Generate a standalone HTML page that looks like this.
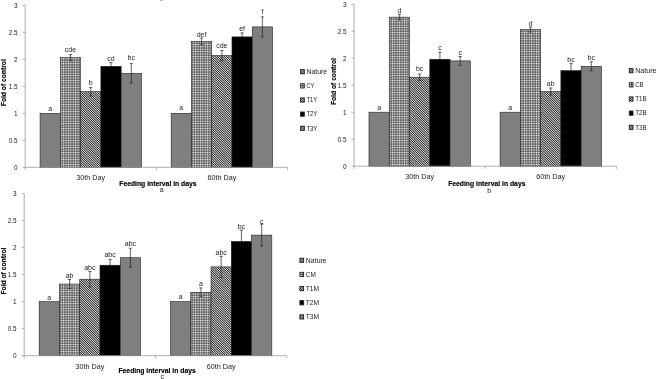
<!DOCTYPE html>
<html><head><meta charset="utf-8"><title>chart</title>
<style>
html,body{margin:0;padding:0;background:#fff;}
body{width:658px;height:379px;overflow:hidden;font-family:"Liberation Sans",sans-serif;}
svg{display:block;filter:grayscale(1);font-family:"Liberation Sans",sans-serif;}
</style></head><body>
<svg width="658" height="379" viewBox="0 0 658 379">
<defs>
<pattern id="grid" patternUnits="userSpaceOnUse" width="2.4" height="2.4">
<rect width="2.4" height="2.4" fill="#111"/><rect x="0.35" y="0.35" width="1.75" height="1.75" fill="#fff"/>
</pattern>
<pattern id="diag" patternUnits="userSpaceOnUse" width="1.62" height="4" patternTransform="rotate(-45)">
<rect width="1.62" height="4" fill="#f4f4f4"/><rect width="0.84" height="4" fill="#161616"/>
</pattern>
</defs>
<rect width="658" height="379" fill="#fff"/>
<rect x="160.3" y="0" width="2.2" height="0.8" fill="#999"/>
<rect x="40.08" y="113.30" width="20.27" height="54.00" fill="#7f7f7f" stroke="#222" stroke-width="0.6"/>
<rect x="60.34" y="57.68" width="20.27" height="109.62" fill="url(#grid)" stroke="#222" stroke-width="0.6"/>
<rect x="80.62" y="91.70" width="20.27" height="75.60" fill="url(#diag)" stroke="#222" stroke-width="0.6"/>
<rect x="100.89" y="66.32" width="20.27" height="100.98" fill="#000000" stroke="#222" stroke-width="0.6"/>
<rect x="121.16" y="73.34" width="20.27" height="93.96" fill="#7f7f7f" stroke="#222" stroke-width="0.6"/>
<rect x="171.17" y="113.30" width="20.27" height="54.00" fill="#7f7f7f" stroke="#222" stroke-width="0.6"/>
<rect x="191.44" y="41.48" width="20.27" height="125.82" fill="url(#grid)" stroke="#222" stroke-width="0.6"/>
<rect x="211.71" y="55.52" width="20.27" height="111.78" fill="url(#diag)" stroke="#222" stroke-width="0.6"/>
<rect x="231.98" y="36.89" width="20.27" height="130.41" fill="#000000" stroke="#222" stroke-width="0.6"/>
<rect x="252.25" y="26.90" width="20.27" height="140.40" fill="#7f7f7f" stroke="#222" stroke-width="0.6"/>
<text x="50.21" y="110.90" font-size="7" text-anchor="middle" fill="#222">a</text>
<path d="M70.48 54.58V60.78M68.88 54.58H72.08M68.88 60.78H72.08" stroke="#222" stroke-width="0.7" fill="none"/>
<text x="70.48" y="52.30" font-size="7" text-anchor="middle" fill="#222">cde</text>
<path d="M90.75 87.40V96.00M89.15 87.40H92.35M89.15 96.00H92.35" stroke="#222" stroke-width="0.7" fill="none"/>
<text x="90.75" y="84.90" font-size="7" text-anchor="middle" fill="#222">b</text>
<path d="M111.02 62.62V66.32M109.42 62.62H112.62" stroke="#222" stroke-width="0.7" fill="none"/>
<text x="111.02" y="60.90" font-size="7" text-anchor="middle" fill="#222">cd</text>
<path d="M131.29 63.64V83.04M129.69 63.64H132.89M129.69 83.04H132.89" stroke="#222" stroke-width="0.7" fill="none"/>
<text x="131.29" y="60.40" font-size="7" text-anchor="middle" fill="#222">bc</text>
<text x="181.31" y="110.20" font-size="7" text-anchor="middle" fill="#222">a</text>
<path d="M201.58 38.18V44.78M199.98 38.18H203.18M199.98 44.78H203.18" stroke="#222" stroke-width="0.7" fill="none"/>
<text x="201.58" y="36.80" font-size="7" text-anchor="middle" fill="#222">def</text>
<path d="M221.85 50.52V60.52M220.25 50.52H223.45M220.25 60.52H223.45" stroke="#222" stroke-width="0.7" fill="none"/>
<text x="221.85" y="48.10" font-size="7" text-anchor="middle" fill="#222">cde</text>
<path d="M242.12 32.89V36.89M240.52 32.89H243.72" stroke="#222" stroke-width="0.7" fill="none"/>
<text x="242.12" y="31.00" font-size="7" text-anchor="middle" fill="#222">ef</text>
<path d="M262.39 16.90V36.90M260.79 16.90H263.99M260.79 36.90H263.99" stroke="#222" stroke-width="0.7" fill="none"/>
<text x="262.39" y="14.00" font-size="7" text-anchor="middle" fill="#222">f</text>
<path d="M25.20 5.30V167.30H287.40" stroke="#9a9a9a" stroke-width="0.8" fill="none"/>
<path d="M22.60 167.30H25.20" stroke="#9a9a9a" stroke-width="0.8"/>
<text x="17.60" y="169.80" font-size="7" text-anchor="end" fill="#222" textLength="3.6" lengthAdjust="spacingAndGlyphs">0</text>
<path d="M22.60 140.30H25.20" stroke="#9a9a9a" stroke-width="0.8"/>
<text x="17.60" y="142.80" font-size="7" text-anchor="end" fill="#222" textLength="8.8" lengthAdjust="spacingAndGlyphs">0.5</text>
<path d="M22.60 113.30H25.20" stroke="#9a9a9a" stroke-width="0.8"/>
<text x="17.60" y="115.80" font-size="7" text-anchor="end" fill="#222" textLength="3.6" lengthAdjust="spacingAndGlyphs">1</text>
<path d="M22.60 86.30H25.20" stroke="#9a9a9a" stroke-width="0.8"/>
<text x="17.60" y="88.80" font-size="7" text-anchor="end" fill="#222" textLength="8.8" lengthAdjust="spacingAndGlyphs">1.5</text>
<path d="M22.60 59.30H25.20" stroke="#9a9a9a" stroke-width="0.8"/>
<text x="17.60" y="61.80" font-size="7" text-anchor="end" fill="#222" textLength="3.6" lengthAdjust="spacingAndGlyphs">2</text>
<path d="M22.60 32.30H25.20" stroke="#9a9a9a" stroke-width="0.8"/>
<text x="17.60" y="34.80" font-size="7" text-anchor="end" fill="#222" textLength="8.8" lengthAdjust="spacingAndGlyphs">2.5</text>
<path d="M22.60 5.30H25.20" stroke="#9a9a9a" stroke-width="0.8"/>
<text x="17.60" y="7.80" font-size="7" text-anchor="end" fill="#222" textLength="3.6" lengthAdjust="spacingAndGlyphs">3</text>
<path d="M25.20 167.30V169.90" stroke="#9a9a9a" stroke-width="0.8"/>
<path d="M156.30 167.30V169.90" stroke="#9a9a9a" stroke-width="0.8"/>
<path d="M287.40 167.30V169.90" stroke="#9a9a9a" stroke-width="0.8"/>
<text x="90.75" y="180.30" font-size="7" text-anchor="middle" fill="#222" textLength="28.8" lengthAdjust="spacingAndGlyphs">30th Day</text>
<text x="221.85" y="180.30" font-size="7" text-anchor="middle" fill="#222" textLength="28.8" lengthAdjust="spacingAndGlyphs">60th Day</text>
<text x="157.90" y="185.70" font-size="7" font-weight="bold" text-anchor="middle" fill="#000" stroke="#000" stroke-width="0.15" textLength="77.3" lengthAdjust="spacingAndGlyphs">Feeding interval in days</text>
<text x="161.70" y="191.70" font-size="7" text-anchor="middle" fill="#222">a</text>
<text transform="translate(6.30 82.70) rotate(-90)" font-size="7" font-weight="bold" text-anchor="middle" fill="#000" stroke="#000" stroke-width="0.15" textLength="47" lengthAdjust="spacingAndGlyphs">Fold of control</text>
<rect x="300.60" y="69.60" width="3.7" height="4.2" fill="#7f7f7f" stroke="#222" stroke-width="0.95"/>
<text x="306.50" y="74.00" font-size="7" fill="#222" textLength="20.5" lengthAdjust="spacingAndGlyphs">Nature</text>
<rect x="300.60" y="83.75" width="3.7" height="4.2" fill="#fff" stroke="#222" stroke-width="0.95"/>
<path d="M300.60 85.85H304.30M302.89 83.75V87.95" stroke="#222" stroke-width="0.8" fill="none"/>
<text x="306.50" y="88.15" font-size="7" fill="#222" textLength="7.5" lengthAdjust="spacingAndGlyphs">CY</text>
<rect x="300.60" y="97.90" width="3.7" height="4.2" fill="url(#diag)" stroke="#222" stroke-width="0.95"/>
<text x="306.50" y="102.30" font-size="7" fill="#222" textLength="10.7" lengthAdjust="spacingAndGlyphs">T1Y</text>
<rect x="300.60" y="112.05" width="3.7" height="4.2" fill="#000000" stroke="#222" stroke-width="0.95"/>
<text x="306.50" y="116.45" font-size="7" fill="#222" textLength="10.7" lengthAdjust="spacingAndGlyphs">T2Y</text>
<rect x="300.60" y="126.20" width="3.7" height="4.2" fill="#7f7f7f" stroke="#222" stroke-width="0.95"/>
<text x="306.50" y="130.60" font-size="7" fill="#222" textLength="10.7" lengthAdjust="spacingAndGlyphs">T3Y</text>
<rect x="368.98" y="112.20" width="20.27" height="54.00" fill="#7f7f7f" stroke="#222" stroke-width="0.6"/>
<rect x="389.25" y="17.16" width="20.27" height="149.04" fill="url(#grid)" stroke="#222" stroke-width="0.6"/>
<rect x="409.52" y="77.21" width="20.27" height="88.99" fill="url(#diag)" stroke="#222" stroke-width="0.6"/>
<rect x="429.79" y="59.28" width="20.27" height="106.92" fill="#000000" stroke="#222" stroke-width="0.6"/>
<rect x="450.06" y="60.90" width="20.27" height="105.30" fill="#7f7f7f" stroke="#222" stroke-width="0.6"/>
<rect x="500.08" y="112.20" width="20.27" height="54.00" fill="#7f7f7f" stroke="#222" stroke-width="0.6"/>
<rect x="520.35" y="29.58" width="20.27" height="136.62" fill="url(#grid)" stroke="#222" stroke-width="0.6"/>
<rect x="540.62" y="91.52" width="20.27" height="74.68" fill="url(#diag)" stroke="#222" stroke-width="0.6"/>
<rect x="560.88" y="70.62" width="20.27" height="95.58" fill="#000000" stroke="#222" stroke-width="0.6"/>
<rect x="581.16" y="66.30" width="20.27" height="99.90" fill="#7f7f7f" stroke="#222" stroke-width="0.6"/>
<text x="379.11" y="110.20" font-size="7" text-anchor="middle" fill="#222">a</text>
<path d="M399.38 14.36V19.96M397.78 14.36H400.98M397.78 19.96H400.98" stroke="#222" stroke-width="0.7" fill="none"/>
<text x="399.38" y="12.70" font-size="7" text-anchor="middle" fill="#222">d</text>
<path d="M419.65 74.01V80.41M418.05 74.01H421.25M418.05 80.41H421.25" stroke="#222" stroke-width="0.7" fill="none"/>
<text x="419.65" y="71.20" font-size="7" text-anchor="middle" fill="#222">bc</text>
<path d="M439.92 52.28V59.28M438.32 52.28H441.52" stroke="#222" stroke-width="0.7" fill="none"/>
<text x="439.92" y="49.80" font-size="7" text-anchor="middle" fill="#222">c</text>
<path d="M460.19 56.50V65.30M458.59 56.50H461.79M458.59 65.30H461.79" stroke="#222" stroke-width="0.7" fill="none"/>
<text x="460.19" y="54.80" font-size="7" text-anchor="middle" fill="#222">c</text>
<text x="510.21" y="109.50" font-size="7" text-anchor="middle" fill="#222">a</text>
<path d="M530.48 27.08V32.08M528.88 27.08H532.08M528.88 32.08H532.08" stroke="#222" stroke-width="0.7" fill="none"/>
<text x="530.48" y="26.00" font-size="7" text-anchor="middle" fill="#222">d</text>
<path d="M550.75 88.02V95.02M549.15 88.02H552.35M549.15 95.02H552.35" stroke="#222" stroke-width="0.7" fill="none"/>
<text x="550.75" y="86.20" font-size="7" text-anchor="middle" fill="#222">ab</text>
<path d="M571.02 63.62V70.62M569.42 63.62H572.62" stroke="#222" stroke-width="0.7" fill="none"/>
<text x="571.02" y="61.80" font-size="7" text-anchor="middle" fill="#222">bc</text>
<path d="M591.29 61.80V70.80M589.69 61.80H592.89M589.69 70.80H592.89" stroke="#222" stroke-width="0.7" fill="none"/>
<text x="591.29" y="59.80" font-size="7" text-anchor="middle" fill="#222">bc</text>
<path d="M354.10 4.20V166.20H616.30" stroke="#9a9a9a" stroke-width="0.8" fill="none"/>
<path d="M351.50 166.20H354.10" stroke="#9a9a9a" stroke-width="0.8"/>
<text x="346.50" y="168.70" font-size="7" text-anchor="end" fill="#222" textLength="3.6" lengthAdjust="spacingAndGlyphs">0</text>
<path d="M351.50 139.20H354.10" stroke="#9a9a9a" stroke-width="0.8"/>
<text x="346.50" y="141.70" font-size="7" text-anchor="end" fill="#222" textLength="8.8" lengthAdjust="spacingAndGlyphs">0.5</text>
<path d="M351.50 112.20H354.10" stroke="#9a9a9a" stroke-width="0.8"/>
<text x="346.50" y="114.70" font-size="7" text-anchor="end" fill="#222" textLength="3.6" lengthAdjust="spacingAndGlyphs">1</text>
<path d="M351.50 85.20H354.10" stroke="#9a9a9a" stroke-width="0.8"/>
<text x="346.50" y="87.70" font-size="7" text-anchor="end" fill="#222" textLength="8.8" lengthAdjust="spacingAndGlyphs">1.5</text>
<path d="M351.50 58.20H354.10" stroke="#9a9a9a" stroke-width="0.8"/>
<text x="346.50" y="60.70" font-size="7" text-anchor="end" fill="#222" textLength="3.6" lengthAdjust="spacingAndGlyphs">2</text>
<path d="M351.50 31.20H354.10" stroke="#9a9a9a" stroke-width="0.8"/>
<text x="346.50" y="33.70" font-size="7" text-anchor="end" fill="#222" textLength="8.8" lengthAdjust="spacingAndGlyphs">2.5</text>
<path d="M351.50 4.20H354.10" stroke="#9a9a9a" stroke-width="0.8"/>
<text x="346.50" y="6.70" font-size="7" text-anchor="end" fill="#222" textLength="3.6" lengthAdjust="spacingAndGlyphs">3</text>
<path d="M354.10 166.20V168.80" stroke="#9a9a9a" stroke-width="0.8"/>
<path d="M485.20 166.20V168.80" stroke="#9a9a9a" stroke-width="0.8"/>
<path d="M616.30 166.20V168.80" stroke="#9a9a9a" stroke-width="0.8"/>
<text x="419.65" y="179.20" font-size="7" text-anchor="middle" fill="#222" textLength="28.8" lengthAdjust="spacingAndGlyphs">30th Day</text>
<text x="550.75" y="179.20" font-size="7" text-anchor="middle" fill="#222" textLength="28.8" lengthAdjust="spacingAndGlyphs">60th Day</text>
<text x="486.80" y="185.90" font-size="7" font-weight="bold" text-anchor="middle" fill="#000" stroke="#000" stroke-width="0.15" textLength="77.3" lengthAdjust="spacingAndGlyphs">Feeding interval in days</text>
<text x="489.10" y="192.50" font-size="7" text-anchor="middle" fill="#222">b</text>
<text transform="translate(336.30 81.60) rotate(-90)" font-size="7" font-weight="bold" text-anchor="middle" fill="#000" stroke="#000" stroke-width="0.15" textLength="47" lengthAdjust="spacingAndGlyphs">Fold of control</text>
<rect x="629.30" y="68.60" width="3.7" height="4.2" fill="#7f7f7f" stroke="#222" stroke-width="0.95"/>
<text x="635.20" y="73.00" font-size="7" fill="#222" textLength="21.3" lengthAdjust="spacingAndGlyphs">Nature</text>
<rect x="629.30" y="82.75" width="3.7" height="4.2" fill="#fff" stroke="#222" stroke-width="0.95"/>
<path d="M629.30 84.85H633.00M631.59 82.75V86.95" stroke="#222" stroke-width="0.8" fill="none"/>
<text x="635.20" y="87.15" font-size="7" fill="#222" textLength="8.2" lengthAdjust="spacingAndGlyphs">CB</text>
<rect x="629.30" y="96.90" width="3.7" height="4.2" fill="url(#diag)" stroke="#222" stroke-width="0.95"/>
<text x="635.20" y="101.30" font-size="7" fill="#222" textLength="11.4" lengthAdjust="spacingAndGlyphs">T1B</text>
<rect x="629.30" y="111.05" width="3.7" height="4.2" fill="#000000" stroke="#222" stroke-width="0.95"/>
<text x="635.20" y="115.45" font-size="7" fill="#222" textLength="11.4" lengthAdjust="spacingAndGlyphs">T2B</text>
<rect x="629.30" y="125.20" width="3.7" height="4.2" fill="#7f7f7f" stroke="#222" stroke-width="0.95"/>
<text x="635.20" y="129.60" font-size="7" fill="#222" textLength="11.4" lengthAdjust="spacingAndGlyphs">T3B</text>
<rect x="39.18" y="301.65" width="20.27" height="54.05" fill="#7f7f7f" stroke="#222" stroke-width="0.6"/>
<rect x="59.45" y="284.03" width="20.27" height="71.67" fill="url(#grid)" stroke="#222" stroke-width="0.6"/>
<rect x="79.72" y="279.22" width="20.27" height="76.48" fill="url(#diag)" stroke="#222" stroke-width="0.6"/>
<rect x="99.99" y="265.22" width="20.27" height="90.48" fill="#000000" stroke="#222" stroke-width="0.6"/>
<rect x="120.26" y="257.71" width="20.27" height="97.99" fill="#7f7f7f" stroke="#222" stroke-width="0.6"/>
<rect x="170.48" y="301.65" width="20.27" height="54.05" fill="#7f7f7f" stroke="#222" stroke-width="0.6"/>
<rect x="190.75" y="292.30" width="20.27" height="63.40" fill="url(#grid)" stroke="#222" stroke-width="0.6"/>
<rect x="211.02" y="266.90" width="20.27" height="88.80" fill="url(#diag)" stroke="#222" stroke-width="0.6"/>
<rect x="231.29" y="241.38" width="20.27" height="114.32" fill="#000000" stroke="#222" stroke-width="0.6"/>
<rect x="251.56" y="235.11" width="20.27" height="120.59" fill="#7f7f7f" stroke="#222" stroke-width="0.6"/>
<text x="49.31" y="299.50" font-size="7" text-anchor="middle" fill="#222">a</text>
<path d="M69.58 279.53V288.53M67.98 279.53H71.18M67.98 288.53H71.18" stroke="#222" stroke-width="0.7" fill="none"/>
<text x="69.58" y="278.20" font-size="7" text-anchor="middle" fill="#222">ab</text>
<path d="M89.85 271.52V286.92M88.25 271.52H91.45M88.25 286.92H91.45" stroke="#222" stroke-width="0.7" fill="none"/>
<text x="89.85" y="269.90" font-size="7" text-anchor="middle" fill="#222">abc</text>
<path d="M110.12 259.42V265.22M108.52 259.42H111.72" stroke="#222" stroke-width="0.7" fill="none"/>
<text x="110.12" y="257.40" font-size="7" text-anchor="middle" fill="#222">abc</text>
<path d="M130.39 248.21V267.21M128.79 248.21H131.99M128.79 267.21H131.99" stroke="#222" stroke-width="0.7" fill="none"/>
<text x="130.39" y="246.10" font-size="7" text-anchor="middle" fill="#222">abc</text>
<text x="180.61" y="298.70" font-size="7" text-anchor="middle" fill="#222">a</text>
<path d="M200.88 287.90V296.70M199.28 287.90H202.48M199.28 296.70H202.48" stroke="#222" stroke-width="0.7" fill="none"/>
<text x="200.88" y="286.20" font-size="7" text-anchor="middle" fill="#222">a</text>
<path d="M221.15 256.30V277.50M219.55 256.30H222.75M219.55 277.50H222.75" stroke="#222" stroke-width="0.7" fill="none"/>
<text x="221.15" y="255.40" font-size="7" text-anchor="middle" fill="#222">abc</text>
<path d="M241.42 230.08V241.38M239.82 230.08H243.02" stroke="#222" stroke-width="0.7" fill="none"/>
<text x="241.42" y="228.50" font-size="7" text-anchor="middle" fill="#222">bc</text>
<path d="M261.69 224.21V246.01M260.09 224.21H263.29M260.09 246.01H263.29" stroke="#222" stroke-width="0.7" fill="none"/>
<text x="261.69" y="223.50" font-size="7" text-anchor="middle" fill="#222">c</text>
<path d="M24.20 193.55V355.70H286.80" stroke="#9a9a9a" stroke-width="0.8" fill="none"/>
<path d="M21.60 355.70H24.20" stroke="#9a9a9a" stroke-width="0.8"/>
<text x="16.60" y="358.20" font-size="7" text-anchor="end" fill="#222" textLength="3.6" lengthAdjust="spacingAndGlyphs">0</text>
<path d="M21.60 328.68H24.20" stroke="#9a9a9a" stroke-width="0.8"/>
<text x="16.60" y="331.18" font-size="7" text-anchor="end" fill="#222" textLength="8.8" lengthAdjust="spacingAndGlyphs">0.5</text>
<path d="M21.60 301.65H24.20" stroke="#9a9a9a" stroke-width="0.8"/>
<text x="16.60" y="304.15" font-size="7" text-anchor="end" fill="#222" textLength="3.6" lengthAdjust="spacingAndGlyphs">1</text>
<path d="M21.60 274.62H24.20" stroke="#9a9a9a" stroke-width="0.8"/>
<text x="16.60" y="277.12" font-size="7" text-anchor="end" fill="#222" textLength="8.8" lengthAdjust="spacingAndGlyphs">1.5</text>
<path d="M21.60 247.60H24.20" stroke="#9a9a9a" stroke-width="0.8"/>
<text x="16.60" y="250.10" font-size="7" text-anchor="end" fill="#222" textLength="3.6" lengthAdjust="spacingAndGlyphs">2</text>
<path d="M21.60 220.57H24.20" stroke="#9a9a9a" stroke-width="0.8"/>
<text x="16.60" y="223.07" font-size="7" text-anchor="end" fill="#222" textLength="8.8" lengthAdjust="spacingAndGlyphs">2.5</text>
<path d="M21.60 193.55H24.20" stroke="#9a9a9a" stroke-width="0.8"/>
<text x="16.60" y="196.05" font-size="7" text-anchor="end" fill="#222" textLength="3.6" lengthAdjust="spacingAndGlyphs">3</text>
<path d="M24.20 355.70V358.30" stroke="#9a9a9a" stroke-width="0.8"/>
<path d="M155.50 355.70V358.30" stroke="#9a9a9a" stroke-width="0.8"/>
<path d="M286.80 355.70V358.30" stroke="#9a9a9a" stroke-width="0.8"/>
<text x="89.85" y="368.70" font-size="7" text-anchor="middle" fill="#222" textLength="28.8" lengthAdjust="spacingAndGlyphs">30th Day</text>
<text x="221.15" y="368.70" font-size="7" text-anchor="middle" fill="#222" textLength="28.8" lengthAdjust="spacingAndGlyphs">60th Day</text>
<text x="157.10" y="372.50" font-size="7" font-weight="bold" text-anchor="middle" fill="#000" stroke="#000" stroke-width="0.15" textLength="77.3" lengthAdjust="spacingAndGlyphs">Feeding interval in days</text>
<text x="162.30" y="378.50" font-size="7" text-anchor="middle" fill="#222">c</text>
<text transform="translate(6.30 271.02) rotate(-90)" font-size="7" font-weight="bold" text-anchor="middle" fill="#000" stroke="#000" stroke-width="0.15" textLength="47" lengthAdjust="spacingAndGlyphs">Fold of control</text>
<rect x="299.90" y="258.20" width="3.7" height="4.2" fill="#7f7f7f" stroke="#222" stroke-width="0.95"/>
<text x="305.80" y="262.60" font-size="7" fill="#222" textLength="20.9" lengthAdjust="spacingAndGlyphs">Nature</text>
<rect x="299.90" y="272.35" width="3.7" height="4.2" fill="#fff" stroke="#222" stroke-width="0.95"/>
<path d="M299.90 274.45H303.60M302.19 272.35V276.55" stroke="#222" stroke-width="0.8" fill="none"/>
<text x="305.80" y="276.75" font-size="7" fill="#222" textLength="10.1" lengthAdjust="spacingAndGlyphs">CM</text>
<rect x="299.90" y="286.50" width="3.7" height="4.2" fill="url(#diag)" stroke="#222" stroke-width="0.95"/>
<text x="305.80" y="290.90" font-size="7" fill="#222" textLength="13.3" lengthAdjust="spacingAndGlyphs">T1M</text>
<rect x="299.90" y="300.65" width="3.7" height="4.2" fill="#000000" stroke="#222" stroke-width="0.95"/>
<text x="305.80" y="305.05" font-size="7" fill="#222" textLength="13.3" lengthAdjust="spacingAndGlyphs">T2M</text>
<rect x="299.90" y="314.80" width="3.7" height="4.2" fill="#7f7f7f" stroke="#222" stroke-width="0.95"/>
<text x="305.80" y="319.20" font-size="7" fill="#222" textLength="13.3" lengthAdjust="spacingAndGlyphs">T3M</text>
</svg>
</body></html>
